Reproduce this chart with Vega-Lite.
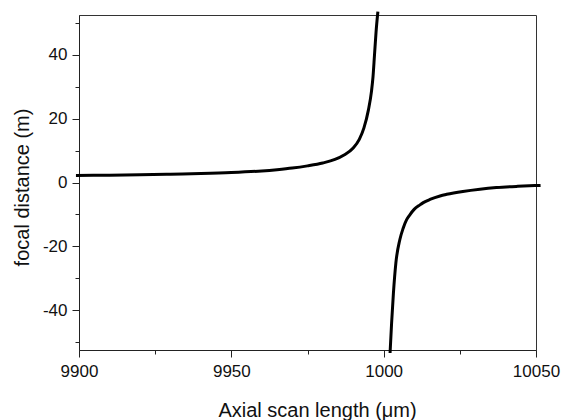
{
  "$schema": "https://vega.github.io/schema/vega-lite/v6.json",
  "width": 457,
  "height": 335,
  "autosize": {"type": "none"},
  "padding": {"left": 79, "top": 15, "right": 34, "bottom": 70},
  "background": "white",
  "config": {
    "view": {"stroke": "#333", "strokeWidth": 1},
    "font": "Liberation Sans",
    "axis": {
      "labelFont": "Liberation Sans",
      "titleFont": "Liberation Sans",
      "labelColor": "#111",
      "titleColor": "#111",
      "domainColor": "#222",
      "tickColor": "#222",
      "grid": false,
      "labelFontSize": 17,
      "titleFontSize": 19,
      "titleFontWeight": "normal"
    }
  },
  "datasets": {
    "curve": [
      {"branch": "upper", "x": 9899, "f": 2.2},
      {"branch": "upper", "x": 9910, "f": 2.3},
      {"branch": "upper", "x": 9920, "f": 2.4},
      {"branch": "upper", "x": 9930, "f": 2.6},
      {"branch": "upper", "x": 9940, "f": 2.8},
      {"branch": "upper", "x": 9950, "f": 3.1},
      {"branch": "upper", "x": 9960, "f": 3.6},
      {"branch": "upper", "x": 9965, "f": 4.0},
      {"branch": "upper", "x": 9970, "f": 4.5},
      {"branch": "upper", "x": 9975, "f": 5.2},
      {"branch": "upper", "x": 9980, "f": 6.1},
      {"branch": "upper", "x": 9984, "f": 7.2},
      {"branch": "upper", "x": 9987, "f": 8.6},
      {"branch": "upper", "x": 9990, "f": 10.8},
      {"branch": "upper", "x": 9992, "f": 13.5},
      {"branch": "upper", "x": 9993.5, "f": 17},
      {"branch": "upper", "x": 9995, "f": 22.7},
      {"branch": "upper", "x": 9996, "f": 28.5},
      {"branch": "upper", "x": 9996.5, "f": 33},
      {"branch": "upper", "x": 9997, "f": 40},
      {"branch": "upper", "x": 9997.5, "f": 47},
      {"branch": "upper", "x": 9998.1, "f": 53.4},
      {"branch": "lower", "x": 10002.1, "f": -53.3},
      {"branch": "lower", "x": 10002.6, "f": -44},
      {"branch": "lower", "x": 10003.2, "f": -34.6},
      {"branch": "lower", "x": 10004.0, "f": -25.2},
      {"branch": "lower", "x": 10005.3, "f": -17.9},
      {"branch": "lower", "x": 10006.4, "f": -14.3},
      {"branch": "lower", "x": 10007.5, "f": -11.7},
      {"branch": "lower", "x": 10008.6, "f": -10.1},
      {"branch": "lower", "x": 10010, "f": -8.4},
      {"branch": "lower", "x": 10011.9, "f": -7.0},
      {"branch": "lower", "x": 10013, "f": -6.3},
      {"branch": "lower", "x": 10015.2, "f": -5.3},
      {"branch": "lower", "x": 10018.5, "f": -4.2},
      {"branch": "lower", "x": 10020.7, "f": -3.7},
      {"branch": "lower", "x": 10026, "f": -2.8},
      {"branch": "lower", "x": 10031.6, "f": -2.1},
      {"branch": "lower", "x": 10037, "f": -1.6},
      {"branch": "lower", "x": 10044, "f": -1.2},
      {"branch": "lower", "x": 10050.2, "f": -0.95},
      {"branch": "lower", "x": 10051.5, "f": -0.9}
    ]
  },
  "layer": [
    {
      "data": {"name": "curve"},
      "mark": {"type": "line", "color": "black", "strokeWidth": 3, "interpolate": "monotone", "clip": false},
      "encoding": {
        "x": {
          "field": "x", "type": "quantitative",
          "scale": {"domain": [9900, 10050], "nice": false, "zero": false},
          "axis": {
            "title": "Axial scan length (μm)",
            "values": [9900, 9950, 10000, 10050],
            "format": "d",
            "labelExpr": "datum.value == 10000 ? '1000' : datum.label",
            "tickSize": 7,
            "labelPadding": 6,
            "labelFlush": false,
            "titleX": 238,
            "titleY": 66,
            "titleBaseline": "alphabetic",
            "titleFontSize": 20
          }
        },
        "y": {
          "field": "f", "type": "quantitative",
          "scale": {"domain": [-52.35, 52.35], "nice": false, "zero": false},
          "axis": {
            "title": "focal distance (m)",
            "values": [-40, -20, 0, 20, 40],
            "labelExpr": "replace(datum.label, '\u2212', '-')",
            "tickSize": 7,
            "labelPadding": 5,
            "labelFlush": false,
            "titleX": -51,
            "titleY": 172,
            "titleBaseline": "alphabetic",
            "titleFontSize": 20
          }
        },
        "detail": {"field": "branch"}
      }
    },
    {
      "mark": {"type": "rule", "color": "black", "strokeWidth": 1},
      "encoding": {
        "x": {
          "datum": 9900, "type": "quantitative",
          "axis": {"title": null, "values": [9925, 9975, 10025], "labels": false, "domain": false, "tickSize": 4, "orient": "bottom"}
        },
        "x2": {"datum": 10050},
        "y": {
          "datum": 0, "type": "quantitative",
          "axis": {"title": null, "values": [-50, -30, -10, 10, 30, 50], "labels": false, "domain": false, "tickSize": 4, "orient": "left"}
        }
      }
    }
  ],
  "resolve": {"axis": {"x": "independent", "y": "independent"}}
}
